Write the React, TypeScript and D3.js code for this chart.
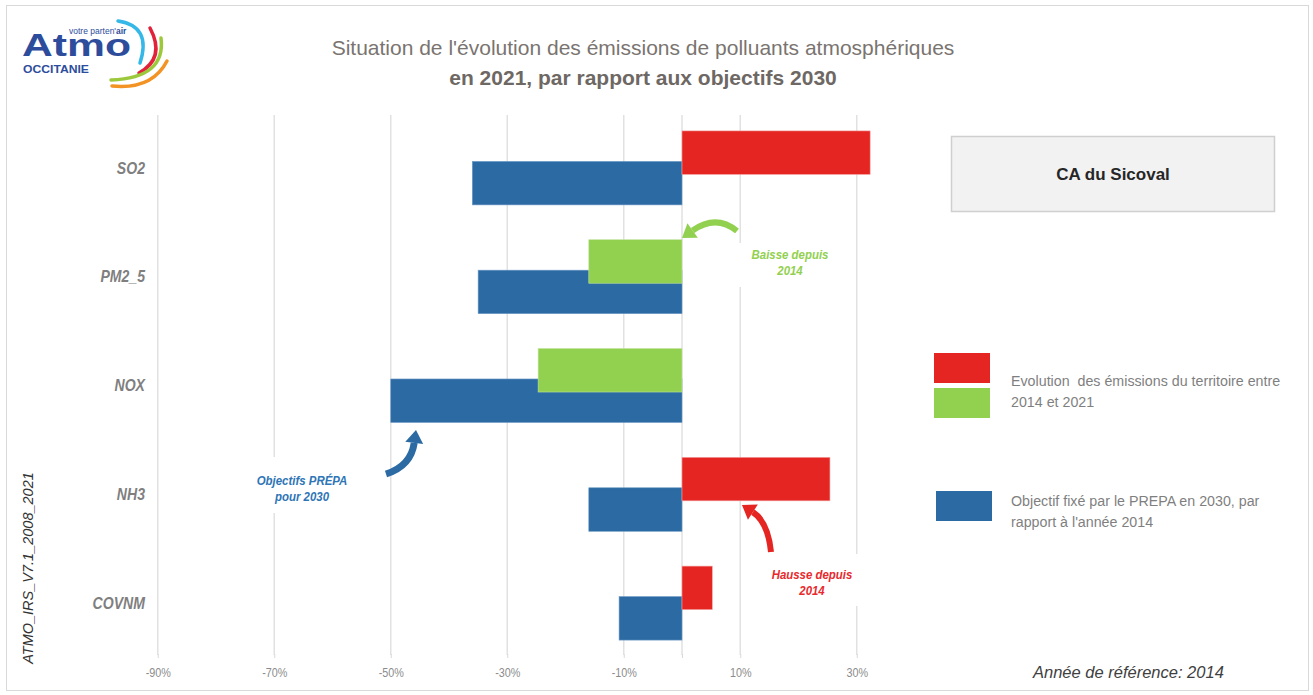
import React, { useRef, useEffect } from "react";
import * as d3 from "d3";

// Pollutants (y categories)
const categories = ["SO2", "PM2_5", "NOX", "NH3", "COVNM"];
// Evolution of emissions 2014 -> 2021 (%), red if increase, green if decrease
const evolution2021 = [32.3, -16.0, -24.7, 25.4, 5.2];
// PREPA objective for 2030 relative to 2014 (%)
const objectifs2030 = [-36.0, -35.0, -50.0, -16.0, -10.8];
// x axis ticks (%)
const xTicks = [-90, -70, -50, -30, -10, 0, 10, 30];

const SANS = "'Liberation Sans', Arial, sans-serif";

const RED = "#e52521";
const GREEN = "#92d050";
const BLUE = "#2b6aa3";

const App = () => {
  const svgRef = useRef<SVGSVGElement>(null);
  const width = 1313;
  const height = 695;

  useEffect(() => {
    const svg = d3.select(svgRef.current);
    svg.selectAll("*").remove();

    // outer frame
    svg
      .append("rect")
      .attr("x", 6.5)
      .attr("y", 5.5)
      .attr("width", 1302)
      .attr("height", 685)
      .attr("fill", "#fff")
      .attr("stroke", "#d9d9d9");

    // scales
    const x = d3.scaleLinear().domain([-100, 40]).range([99.5, 915]);
    const y = d3.scaleBand().domain(categories).range([113.5, 657.5]);
    const barH = y.bandwidth() * 0.4;

    // gridlines
    svg
      .append("g")
      .selectAll("line")
      .data(xTicks)
      .join("line")
      .attr("x1", (d) => x(d))
      .attr("x2", (d) => x(d))
      .attr("y1", 115)
      .attr("y2", 655)
      .attr("stroke", "#e1e1e1")
      .attr("stroke-width", 1.5);

    // x axis
    const axis = svg
      .append("g")
      .attr("transform", "translate(0,654)")
      .call(
        d3
          .axisBottom(x)
          .tickValues(xTicks)
          .tickSize(4)
          .tickPadding(10)
          .tickFormat((d) => (+d === 0 ? "" : `${d}%`))
      );
    axis.select(".domain").remove();
    axis.selectAll(".tick line").attr("stroke", "#d9d9d9");
    axis
      .selectAll(".tick text")
      .attr("fill", "#8c8c8c")
      .attr("font-family", SANS)
      .attr("font-size", 12)
      .attr("transform", "scale(0.9,1)");

    // white boxes behind annotations
    const boxes = [
      [735, 243, 110, 44],
      [240, 457, 125, 56],
      [762, 554, 115, 52],
    ];
    svg
      .append("g")
      .selectAll("rect")
      .data(boxes)
      .join("rect")
      .attr("x", (d) => d[0])
      .attr("y", (d) => d[1])
      .attr("width", (d) => d[2])
      .attr("height", (d) => d[3])
      .attr("fill", "#fff");

    // objective bars (blue, lower)
    svg
      .append("g")
      .selectAll("rect")
      .data(categories)
      .join("rect")
      .attr("x", (d, i) => x(Math.min(0, objectifs2030[i])))
      .attr("width", (d, i) => Math.abs(x(objectifs2030[i]) - x(0)))
      .attr("y", (d) => y(d)! + y.bandwidth() / 2 - barH * 0.15)
      .attr("height", barH)
      .attr("fill", BLUE)
      .attr("stroke", "#6f9cc6")
      .attr("stroke-width", 0.6);

    // evolution bars (red / green, upper)
    svg
      .append("g")
      .selectAll("rect")
      .data(categories)
      .join("rect")
      .attr("x", (d, i) => x(Math.min(0, evolution2021[i])))
      .attr("width", (d, i) => Math.abs(x(evolution2021[i]) - x(0)))
      .attr("y", (d) => y(d)! + y.bandwidth() / 2 - barH * 0.85)
      .attr("height", barH)
      .attr("fill", (d, i) => (evolution2021[i] >= 0 ? RED : GREEN))
      .attr("stroke", (d, i) => (evolution2021[i] >= 0 ? "#f3a5a5" : "#c3e59f"))
      .attr("stroke-width", 0.6);

    // category labels (narrowed to look like Arial Narrow)
    svg
      .append("g")
      .selectAll("text")
      .data(categories)
      .join("text")
      .attr("transform", (d) => `translate(145,${y(d)! + y.bandwidth() / 2}) scale(0.88,1)`)
      .attr("dy", "0.35em")
      .attr("text-anchor", "end")
      .attr("font-family", SANS)
      .attr("font-weight", "bold")
      .attr("font-style", "italic")
      .attr("font-size", 16)
      .attr("fill", "#7f7f7f")
      .text((d) => d);

    // curved arrows
    const arrow = (p0, c, p1, color, w) => {
      const dx = p1[0] - c[0];
      const dy = p1[1] - c[1];
      const len = Math.hypot(dx, dy);
      const tx = dx / len;
      const ty = dy / len;
      const L = 13;
      const W = 9;
      const bx = p1[0] - tx * L;
      const by = p1[1] - ty * L;
      const g = svg.append("g");
      g.append("path")
        .attr("d", `M${p0[0]},${p0[1]} Q${c[0]},${c[1]} ${bx},${by}`)
        .attr("fill", "none")
        .attr("stroke", color)
        .attr("stroke-width", w);
      g.append("path")
        .attr(
          "d",
          `M${p1[0]},${p1[1]} L${bx - ty * W},${by + tx * W} L${bx + ty * W},${by - tx * W} Z`
        )
        .attr("fill", color);
    };
    arrow([737, 231], [716, 214], [682, 238], GREEN, 6);
    arrow([386, 474], [411, 466], [416, 430], BLUE, 7);
    arrow([771, 552], [768, 522], [742, 505], RED, 6);

    // annotation texts
    const notes = [
      { x: 790, y: 259, lines: ["Baisse depuis", "2014"], color: GREEN },
      { x: 302, y: 485, lines: ["Objectifs PRÉPA", "pour 2030"], color: "#2e75b6" },
      { x: 812, y: 579, lines: ["Hausse depuis", "2014"], color: "#e8292d" },
    ];
    notes.forEach((n) => {
      const t = svg
        .append("text")
        .attr("transform", `translate(${n.x},${n.y}) scale(0.88,1)`)
        .attr("text-anchor", "middle")
        .attr("font-family", SANS)
        .attr("font-weight", "bold")
        .attr("font-style", "italic")
        .attr("font-size", 13)
        .attr("fill", n.color);
      n.lines.forEach((l, i) =>
        t.append("tspan").attr("x", 0).attr("dy", i === 0 ? 0 : 16).text(l)
      );
    });

    // title
    svg
      .append("text")
      .attr("x", 643)
      .attr("y", 55)
      .attr("text-anchor", "middle")
      .attr("font-family", SANS)
      .attr("font-size", 21)
      .attr("fill", "#7a7470")
      .text("Situation de l'évolution des émissions de polluants atmosphériques");
    svg
      .append("text")
      .attr("x", 643)
      .attr("y", 85)
      .attr("text-anchor", "middle")
      .attr("font-family", SANS)
      .attr("font-weight", "bold")
      .attr("font-size", 21)
      .attr("fill", "#6e6864")
      .text("en 2021, par rapport aux objectifs 2030");

    // territory box
    svg
      .append("rect")
      .attr("x", 951.5)
      .attr("y", 136.5)
      .attr("width", 323)
      .attr("height", 75)
      .attr("fill", "#f2f2f2")
      .attr("stroke", "#cfcfcf")
      .attr("stroke-width", 1.5);
    svg
      .append("text")
      .attr("x", 1113)
      .attr("y", 174)
      .attr("dy", "0.35em")
      .attr("text-anchor", "middle")
      .attr("font-family", SANS)
      .attr("font-weight", "bold")
      .attr("font-size", 17)
      .attr("fill", "#262626")
      .text("CA du Sicoval");

    // legend
    const legendSwatches = [
      { x: 934, y: 353, color: RED },
      { x: 934, y: 388, color: GREEN },
      { x: 936, y: 491, color: BLUE },
    ];
    svg
      .append("g")
      .selectAll("rect")
      .data(legendSwatches)
      .join("rect")
      .attr("x", (d) => d.x)
      .attr("y", (d) => d.y)
      .attr("width", 56)
      .attr("height", 30)
      .attr("fill", (d) => d.color);
    const legendTexts = [
      { y: 386, lines: ["Evolution  des émissions du territoire entre", "2014 et 2021"] },
      { y: 506, lines: ["Objectif fixé par le PREPA en 2030, par", "rapport à l'année 2014"] },
    ];
    legendTexts.forEach((l) => {
      const t = svg
        .append("text")
        .attr("transform", `translate(1011,${l.y}) scale(0.92,1)`)
        .attr("font-family", SANS)
        .attr("font-size", 15.5)
        .attr("fill", "#7f7f7f")
        .attr("xml:space", "preserve");
      l.lines.forEach((s, i) =>
        t.append("tspan").attr("x", 0).attr("dy", i === 0 ? 0 : 21).text(s)
      );
    });

    // reference year
    svg
      .append("text")
      .attr("x", 1033)
      .attr("y", 678)
      .attr("font-family", SANS)
      .attr("font-style", "italic")
      .attr("font-size", 16.5)
      .attr("fill", "#404040")
      .text("Année de référence: 2014");

    // version label
    svg
      .append("text")
      .attr("transform", "translate(33,568) rotate(-90)")
      .attr("text-anchor", "middle")
      .attr("font-family", SANS)
      .attr("font-style", "italic")
      .attr("font-size", 14.5)
      .attr("fill", "#333")
      .text("ATMO_IRS_V7.1_2008_2021");

    // logo
    const logo = svg.append("g");
    const arcs = [
      ["M118,21 Q152,26 140,63", "#35b7e8"],
      ["M150,28 Q166,58 139,73", "#e2213a"],
      ["M161,38 Q166,78 111,80", "#9cc83c"],
      ["M167,61 Q152,90 112,86", "#f39324"],
    ];
    arcs.forEach(([d, c]) =>
      logo
        .append("path")
        .attr("d", d)
        .attr("fill", "none")
        .attr("stroke", c)
        .attr("stroke-width", 3.5)
        .attr("stroke-linecap", "round")
    );
    logo
      .append("text")
      .attr("x", 22)
      .attr("y", 56)
      .attr("font-family", SANS)
      .attr("font-weight", "bold")
      .attr("font-size", 31)
      .attr("textLength", 109)
      .attr("lengthAdjust", "spacingAndGlyphs")
      .attr("fill", "#2d4d9c")
      .text("Atmo");
    const tag = logo
      .append("text")
      .attr("x", 69)
      .attr("y", 34)
      .attr("font-family", SANS)
      .attr("font-size", 8.5)
      .attr("fill", "#2d4d9c");
    tag.append("tspan").text("votre parten'");
    tag.append("tspan").attr("font-weight", "bold").text("air");
    logo
      .append("text")
      .attr("x", 23)
      .attr("y", 72.5)
      .attr("font-family", SANS)
      .attr("font-weight", "bold")
      .attr("font-size", 10.5)
      .attr("textLength", 66)
      .attr("lengthAdjust", "spacingAndGlyphs")
      .attr("fill", "#2d4d9c")
      .text("OCCITANIE");
  }, []);

  return (
    <svg
      ref={svgRef}
      width={width}
      height={height}
      style={{ position: "absolute", left: 0, top: 0, display: "block" }}
    ></svg>
  );
};

export default App;
